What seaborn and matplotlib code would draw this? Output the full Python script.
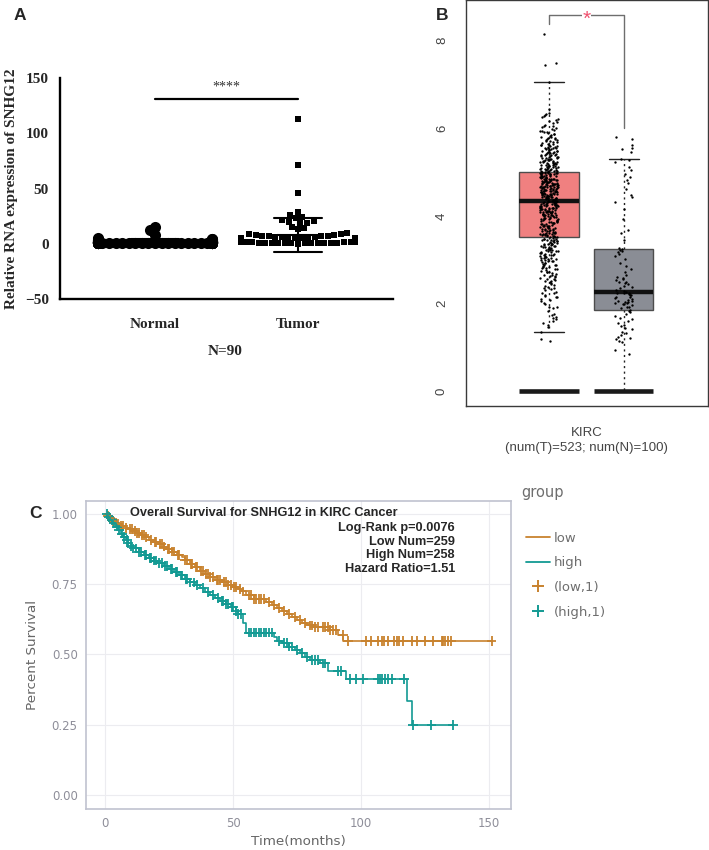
import numpy as np
import pandas as pd
import matplotlib
matplotlib.use("Agg")
import matplotlib.pyplot as plt
from matplotlib.lines import Line2D
import seaborn as sns

# ---------------- data ----------------
# panel A: relative SNHG12 expression, 90 normal / 90 tumor samples
normal_a = [
    0.25, 0.30, 0.35, 0.42, 0.45, 0.48, 0.52, 0.55, 0.58, 0.60,
    0.62, 0.65, 0.68, 0.70, 0.72, 0.74, 0.78, 0.80, 0.83, 0.85,
    0.86, 0.88, 0.90, 0.92, 0.94, 0.95, 0.97, 0.98, 0.99, 1.00,
    1.00, 1.02, 1.03, 1.05, 1.06, 1.08, 1.10, 1.12, 1.13, 1.15,
    1.16, 1.18, 1.20, 1.22, 1.25, 1.27, 1.30, 1.32, 1.35, 1.38,
    1.40, 1.42, 1.45, 1.48, 1.50, 1.55, 1.58, 1.60, 1.65, 1.70,
    1.72, 1.75, 1.80, 1.85, 1.90, 1.95, 2.00, 2.05, 2.10, 2.15,
    2.20, 2.30, 2.40, 2.50, 2.60, 2.70, 2.80, 2.90, 3.00, 3.20,
    3.40, 3.60, 3.80, 4.00, 4.30, 4.60, 5.00, 8.30, 12.0, 15.3,
]
tumor_a = [
    0.3, 0.4, 0.5, 0.6, 0.7, 0.8, 0.9, 1.0, 1.0, 1.1,
    1.2, 1.2, 1.3, 1.4, 1.5, 1.5, 1.6, 1.7, 1.8, 1.9,
    2.0, 2.0, 2.1, 2.2, 2.3, 2.4, 2.5, 2.5, 2.6, 2.7,
    2.8, 2.9, 3.0, 3.0, 3.1, 3.2, 3.3, 3.4, 3.5, 3.6,
    3.7, 3.8, 3.9, 4.0, 4.1, 4.2, 4.4, 4.5, 4.7, 4.9,
    5.0, 5.2, 5.4, 5.6, 5.8, 6.0, 6.3, 6.6, 7.0, 7.4,
    7.8, 8.2, 8.8, 9.5, 13.0, 14.0, 15.0, 0.5, 1.4, 2.2,
    0.2, 0.9, 1.6, 2.9, 3.8, 5.5, 6.8, 9.0, 18.5, 19.1,
    20.0, 20.9, 21.5, 23.0, 24.5, 26.0, 29.0, 46.0, 71.0, 113.0,
]
groups_a = ["Normal", "Tumor"]

# panel B: GEPIA KIRC, log2(TPM+1); tumor values given as 0.1-bins + hundredths digits
tumor_b_bins = [1.1, 1.3, 1.4, 1.5, 1.6, 1.7, 1.8, 1.9,
                2.0, 2.1, 2.2, 2.3, 2.4, 2.5, 2.6, 2.7, 2.8, 2.9,
                3.0, 3.1, 3.2, 3.3, 3.4, 3.5, 3.6, 3.7, 3.8, 3.9,
                4.0, 4.1, 4.2, 4.3, 4.4, 4.5, 4.6, 4.7, 4.8, 4.9,
                5.0, 5.1, 5.2, 5.3, 5.4, 5.5, 5.6, 5.7, 5.8, 5.9,
                6.0, 6.1, 6.2, 6.3, 6.4, 7.0, 7.4, 7.5, 8.1]
tumor_b_digits = ["58", "4", "7", "26", "158", "036", "49", "138",
                  "259", "1468", "0357", "13568", "02479", "124578", "0234679",
                  "1235689", "01345789", "02346789",
                  "0123456789", "0113456779", "01233456789", "012234566789",
                  "0122345667889", "1334556778899", "0112345567789",
                  "0123345667889", "0112344567899", "0123345567789",
                  "001123344556778899", "0011223445566778999",
                  "0012233445566778899", "0011223334456788",
                  "001122334455667788999", "001122334455667788899",
                  "001122334455667789999", "011122334455667788899",
                  "001122334455566778899", "00112234455667788899",
                  "0011223345566789", "001223445667889", "01123345667889",
                  "0122344567889", "012344567889", "01234566789", "013345789",
                  "02345689", "0134679", "124578",
                  "13568", "2479", "158", "036", "5", "5", "5", "0", "5"]
normal_b = [0.0, 0.0, 0.0, 0.85, 0.95, 1.12, 1.15, 1.18, 1.21, 1.24,
            1.27, 1.32, 1.36, 1.41, 1.45, 1.48, 1.52, 1.56, 1.61, 1.64,
            1.68, 1.72, 1.77, 1.81, 1.84, 1.86, 1.89, 1.91, 1.93, 1.96,
            1.98, 2.00, 2.01, 2.02, 2.03, 2.04, 2.05, 2.06, 2.08, 2.10,
            2.12, 2.14, 2.16, 2.19, 2.20, 2.21, 2.23, 2.24, 2.25, 2.26,
            2.28, 2.31, 2.35, 2.38, 2.41, 2.44, 2.47, 2.49, 2.50, 2.53,
            2.55, 2.58, 2.61, 2.64, 2.72, 2.78, 2.85, 2.93, 3.02, 3.08,
            3.12, 3.17, 3.21, 3.23, 3.24, 3.26, 3.45, 3.62, 3.68, 3.92,
            4.15, 4.32, 4.43, 4.48, 4.62, 4.75, 4.82, 4.88, 4.95, 5.05,
            5.12, 5.22, 5.27, 5.30, 5.45, 5.52, 5.56, 5.62, 5.75, 5.80]
groups_b = ["Tumor", "Normal"]
bracket_b = [8.38, 8.58, 6.0]   # tumor leg, top, normal leg

# panel C: Kaplan-Meier, step times (months) and survival
low_t = [0, 1, 2, 3, 4, 5, 6, 8, 9, 11, 12, 14, 16, 17, 19, 21, 23, 24, 26, 28,
         30, 31, 33, 35, 37, 39, 41, 43, 46, 48, 50, 52, 53, 55, 58, 63, 65, 67,
         69, 71, 73, 75, 77, 79, 82, 88, 91, 93, 151]
low_s = [1.0, .992, .984, .976, .968, .963, .958, .951, .945, .94, .933, .925,
         .917, .908, .90, .892, .884, .876, .866, .855, .845, .835, .822, .81,
         .797, .785, .775, .765, .757, .748, .741, .733, .724, .712, .696, .688,
         .676, .664, .655, .645, .633, .622, .612, .603, .597, .588, .569, .549, .549]
high_t = [0, 1, 2, 3, 4, 5, 6, 7, 8, 9, 10, 11, 13, 15, 17, 19, 21, 23, 25, 27,
          29, 31, 33, 35, 37, 39, 41, 43, 45, 47, 49, 51, 52, 54, 55, 66, 67, 69,
          72, 74, 76, 78, 80, 84, 87, 94, 118, 120, 136]
high_s = [1.0, .99, .979, .968, .955, .942, .93, .918, .907, .897, .887, .877,
          .865, .853, .843, .834, .824, .815, .805, .793, .781, .768, .756, .746,
          .736, .722, .711, .70, .69, .68, .668, .655, .645, .612, .578, .563,
          .548, .54, .528, .515, .504, .492, .48, .468, .442, .413, .336, .249, .249]
low_cens = [1, 2, 3, 4, 5, 6, 7, 8, 9.5, 10.5, 11.5, 12.5, 13, 14.5, 15, 16, 18,
            19.5, 20, 21.5, 22, 23, 24.5, 25, 26, 27, 28.5, 29, 31, 32, 33.5, 34,
            35.5, 36, 37.5, 38, 39.5, 40, 41, 42, 43.5, 44, 45, 46.5, 47, 48, 49,
            50.5, 51, 52.5, 54, 56, 57, 58, 59, 60, 61, 62, 64, 66, 68, 70, 72,
            74, 76, 78, 80, 81, 82, 83, 85, 86, 87, 88, 89, 90, 92.8, 94.8, 102,
            104, 106.5, 108, 109, 110.5, 113, 114, 115, 116.5, 120, 122, 125,
            128, 131.5, 132, 132.7, 134, 135.3, 151]
high_cens = [0.5, 1.5, 2.5, 3.5, 4.5, 5.5, 6.5, 7.5, 8.5, 9, 10, 11, 12, 13, 14,
             15.5, 16, 17.5, 18, 19, 20, 21, 22, 23.5, 24, 25.5, 26, 27.5, 28,
             29.5, 30, 31.5, 32, 33, 34.5, 36, 38, 40, 42, 44, 45.5, 46, 47, 48,
             49.5, 50, 51, 52, 53, 56, 57, 58, 59, 60, 61, 62, 63, 64, 65, 68, 70,
             71, 72, 73, 75, 77, 79, 81, 82, 83, 85, 86, 91, 92.3, 95.6, 98.2,
             100.8, 106.6, 107.3, 108, 109.3, 110.5, 111.9, 116.7, 120.3, 127.5, 136]
km_title = "Overall Survival for SNHG12 in KIRC Cancer"
km_text = ["Log-Rank p=0.0076", "Low Num=259", "High Num=258", "Hazard Ratio=1.51"]

c_low, c_high = "#C8822E", "#139A93"

# ---------------- figure ----------------
sns.set_style("white")
plt.rcParams["font.family"] = ["Liberation Sans", "DejaVu Sans"]
fig = plt.figure(figsize=(7.09, 8.5), dpi=100)
W, H = 709, 850

# ---- A ----
axA = fig.add_axes([60 / W, 1 - 299 / H, 333 / W, 221 / H])
dfA = pd.DataFrame({"group": ["Normal"] * len(normal_a) + ["Tumor"] * len(tumor_a),
                    "value": normal_a + tumor_a})
# swarm is laid out with small markers, then drawn with big ones (Prism-like overlap)
n0 = len(axA.collections)
sns.swarmplot(data=dfA[dfA.group == "Normal"], x="group", y="value", order=groups_a,
              color="black", marker="o", size=4.5, warn_thresh=1, ax=axA)
sns.swarmplot(data=dfA[dfA.group == "Tumor"], x="group", y="value", order=groups_a,
              color="black", marker="s", size=4.5, warn_thresh=1, ax=axA)
swarms = axA.collections[n0:]
sns.pointplot(data=dfA, x="group", y="value", order=groups_a, errorbar="sd",
              capsize=0.33, color="black", markers="_", markersize=30,
              markeredgewidth=1.5, linestyles="none", err_kws={"linewidth": 1.5}, ax=axA)
axA.plot([0, 1], [131, 131], color="black", lw=1.6)
axA.text(0.5, 142, "****", ha="center", va="center", fontsize=10,
         family="Liberation Serif", color="#333333")
axA.set_xlim(-0.664, 1.664)
axA.set_ylim(-50, 150)
axA.set_yticks([-50, 0, 50, 100, 150])
axA.set_xlabel("")
axA.set_ylabel("Relative RNA expression of SNHG12", fontsize=11, fontweight="bold",
               family="Liberation Serif", labelpad=5)
for s in ["top", "right"]:
    axA.spines[s].set_visible(False)
for s in ["left", "bottom"]:
    axA.spines[s].set_linewidth(1.7)
    axA.spines[s].set_color("black")
axA.tick_params(axis="both", length=5, width=1.6, color="black", labelsize=11)
axA.tick_params(axis="x", pad=9)
axA.tick_params(axis="y", pad=3)
for lab in axA.get_xticklabels() + axA.get_yticklabels():
    lab.set_fontfamily("Liberation Serif")
    lab.set_fontweight("bold")
fig.text(225 / W, 1 - 352 / H, "N=90", ha="center", va="center", fontsize=11,
         fontweight="bold", family="Liberation Serif")

# ---- B ----
axB = fig.add_axes([466 / W, 1 - 406 / H, 242 / W, 406 / H])
tumor_b = [round(b + int(d) / 100, 2) for b, ds in zip(tumor_b_bins, tumor_b_digits) for d in ds]
dfB = pd.DataFrame({"group": ["Tumor"] * len(tumor_b) + ["Normal"] * len(normal_b),
                    "value": tumor_b + normal_b})
sns.boxplot(data=dfB, x="group", y="value", hue="group", order=groups_b, hue_order=groups_b,
            palette={"Tumor": "#F08080", "Normal": "#8A8D95"}, saturation=1, width=0.8,
            whis=1.5, showfliers=False, linecolor="#4d4d4d", linewidth=1, legend=False,
            medianprops=dict(color="#111111", linewidth=3.2),
            whiskerprops=dict(color="#222222", linestyle=(0, (1.5, 2.5)), linewidth=1),
            capprops=dict(color="#222222", linewidth=1), ax=axB)
sns.stripplot(data=dfB, x="group", y="value", order=groups_b, color="black", size=1.7,
              jitter=0.12, ax=axB)
for i in range(len(groups_b)):
    axB.hlines(0, i - 0.4, i + 0.4, color="#1a1a1a", lw=3.3, zorder=5)
axB.plot([0, 0, 1, 1], [bracket_b[0], bracket_b[1], bracket_b[1], bracket_b[2]],
         color="#6e6e6e", lw=1)
axB.text(0.5, bracket_b[1] - 0.1, "*", color="#F0506E", fontsize=15, ha="center", va="center",
         bbox=dict(fc="white", ec="none", pad=0.5))
axB.set_xlim(-1.11, 2.13)
axB.set_ylim(-0.34, 8.93)
axB.set_yticks([0, 2, 4, 6, 8])
axB.set_xticks([0.5], labels=["KIRC\n(num(T)=523; num(N)=100)"])
axB.set_xlabel("")
axB.set_ylabel("")
for s in axB.spines.values():
    s.set_color("#3a3a3a")
    s.set_linewidth(1)
axB.tick_params(axis="both", length=8, width=1, color="#3a3a3a", labelsize=9.5,
                labelcolor="#444444")
axB.tick_params(axis="y", pad=5)
axB.tick_params(axis="x", pad=7)
for lab in axB.get_xticklabels():
    lab.set_linespacing(1.35)
for lab in axB.get_yticklabels():
    lab.set_rotation(90)
    lab.set_va("center")

# ---- C ----
axC = fig.add_axes([86 / W, 1 - 809 / H, 424.7 / W, 308.3 / H])
dfC = pd.concat([pd.DataFrame({"t": low_t, "S": low_s, "group": "low"}),
                 pd.DataFrame({"t": high_t, "S": high_s, "group": "high"})], ignore_index=True)


def surv_at(times, surv, ct):
    idx = np.searchsorted(times, ct, side="right") - 1
    return np.asarray(surv)[idx]


dfCens = pd.concat([
    pd.DataFrame({"t": low_cens, "S": surv_at(low_t, low_s, low_cens), "group": "low"}),
    pd.DataFrame({"t": high_cens, "S": surv_at(high_t, high_s, high_cens), "group": "high"}),
], ignore_index=True)
pal_c = {"low": c_low, "high": c_high}
axC.grid(True, color="#ececf0", lw=0.8)
axC.set_axisbelow(True)
sns.lineplot(data=dfC, x="t", y="S", hue="group", hue_order=["low", "high"], palette=pal_c,
             estimator=None, sort=False, drawstyle="steps-post", linewidth=1.2,
             legend=False, ax=axC)
sns.scatterplot(data=dfCens, x="t", y="S", hue="group", palette=pal_c, marker="+", s=50,
                linewidth=1.3, legend=False, ax=axC)
axC.set_xlim(-7.55, 158.5)
axC.set_ylim(-0.05, 1.047)
axC.set_xticks([0, 50, 100, 150])
axC.set_yticks([0, 0.25, 0.5, 0.75, 1.0], labels=["0.00", "0.25", "0.50", "0.75", "1.00"])
axC.set_xlabel("Time(months)", fontsize=9.7, color="#666666", family="DejaVu Sans", labelpad=3)
axC.set_ylabel("Percent Survival", fontsize=9.7, color="#666666", family="DejaVu Sans", labelpad=9)
for s in axC.spines.values():
    s.set_color("#c0c2cf")
    s.set_linewidth(1.2)
axC.tick_params(axis="both", length=4, width=1, color="#c0c2cf", labelsize=8.5,
                labelcolor="#8e8e99", pad=2)
for lab in axC.get_xticklabels() + axC.get_yticklabels():
    lab.set_fontfamily("DejaVu Sans")
axC.text(0.419, 0.96, km_title, transform=axC.transAxes, ha="center", va="center",
         fontsize=9.2, fontweight="bold")
for k, line in enumerate(km_text):
    axC.text(0.869, 0.911 - k * 0.044, line, transform=axC.transAxes, ha="right",
             va="center", fontsize=9.2, fontweight="bold")

fig.text(521 / W, 1 - 492 / H, "group", ha="left", va="center", fontsize=10.5,
         color="#6e6e6e", family="DejaVu Sans")
handles = [Line2D([], [], color=c_low, lw=1.3),
           Line2D([], [], color=c_high, lw=1.3),
           Line2D([], [], color=c_low, marker="+", ls="none", ms=8, mew=1.4),
           Line2D([], [], color=c_high, marker="+", ls="none", ms=8, mew=1.4)]
fig.legend(handles, ["low", "high", "(low,1)", "(high,1)"], loc="upper left",
           bbox_to_anchor=(514 / W, 1 - 520 / H), frameon=False,
           labelcolor="#6e6e6e", labelspacing=0.88, handlelength=1.8,
           handletextpad=0.35, prop={"family": "DejaVu Sans", "size": 9.5})

# panel letters
for txt, x, y in [("A", 20, 15), ("B", 442, 15), ("C", 36, 513)]:
    fig.text(x / W, 1 - y / H, txt, ha="center", va="center", fontsize=12.5, fontweight="bold")

# lay the swarms out once, then freeze positions and enlarge the markers
fig.canvas.draw()
for coll, big in zip(swarms, [8.0, 7.4]):
    if "draw" in coll.__dict__:
        del coll.draw
    coll.set_sizes([big ** 2])

fig.savefig("out.png", dpi=100)
